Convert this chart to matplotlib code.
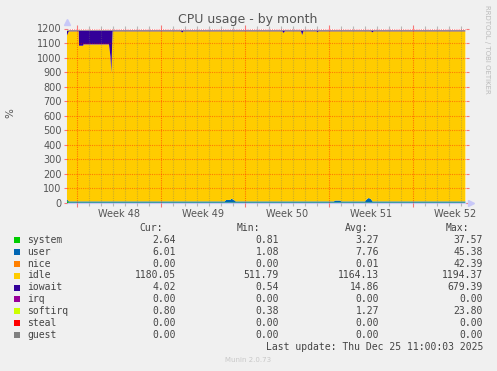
import matplotlib
matplotlib.use("Agg")
import matplotlib.pyplot as plt
from matplotlib.patches import Rectangle
import matplotlib.transforms as mtransforms

# ---------------- data ----------------
# time in days from left edge of plot
t = [0.00, 0.15, 0.98, 1.00, 1.35, 1.37, 3.50, 3.62, 3.70, 3.76, 3.80, 9.50, 9.60, 9.70,
     13.15, 13.25, 13.60, 13.70, 13.95, 14.05, 17.95, 18.05, 18.15, 19.50, 19.60, 19.70,
     20.80, 20.88, 20.95, 22.25, 22.35, 22.75, 22.85, 24.85, 24.95, 25.15, 25.35, 25.45,
     25.55, 33.20]
system = [15, 3, 3, 3, 3, 3, 3, 3, 3, 3, 3, 3, 3, 3,
          3, 3, 3, 3, 3, 3, 3, 3, 3, 3, 3, 3,
          3, 3, 3, 3, 3, 3, 3, 3, 3, 3, 3, 3,
          3, 3]
user = [10, 8, 8, 8, 8, 8, 8, 8, 8, 8, 8, 8, 8, 8,
        8, 18, 18, 27, 16, 8, 8, 8, 8, 8, 8, 8,
        8, 8, 8, 8, 14, 14, 8, 8, 20, 32, 22, 8,
        8, 8]
nice = [0] * 40
idle = [1128, 1169.7, 1169.7, 1070.7, 1070.7, 1079.7, 1079.7, 995.7, 885.7, 1075.7, 1169.7, 1169.7, 1160.7, 1169.7,
        1169.7, 1159.7, 1159.7, 1150.7, 1161.7, 1169.7, 1169.7, 1157.7, 1169.7, 1169.7, 1143.7, 1169.7,
        1169.7, 1161.7, 1169.7, 1169.7, 1163.7, 1163.7, 1169.7, 1169.7, 1157.7, 1145.7, 1155.7, 1161.7,
        1169.7, 1169.7]
iowait = [30, 6, 6, 105, 105, 96, 96, 180, 290, 100, 6, 6, 15, 6,
          6, 6, 6, 6, 6, 6, 6, 18, 6, 6, 32, 6,
          6, 14, 6, 6, 6, 6, 6, 6, 6, 6, 6, 14,
          6, 6]
irq = [0] * 40
softirq = [5] + [1.3] * 39
steal = [0] * 40
guest = [0] * 40

names = ["system", "user", "nice", "idle", "iowait", "irq", "softirq", "steal", "guest"]
colors = ["#00CC00", "#0066B3", "#FF8000", "#FFCC00", "#330099", "#990099", "#CCFF00", "#FF0000", "#808080"]
cur = ["2.64", "6.01", "0.00", "1180.05", "4.02", "0.00", "0.80", "0.00", "0.00"]
mins = ["0.81", "1.08", "0.00", "511.79", "0.54", "0.00", "0.38", "0.00", "0.00"]
avgs = ["3.27", "7.76", "0.01", "1164.13", "14.86", "0.00", "1.27", "0.00", "0.00"]
maxs = ["37.57", "45.38", "42.39", "1194.37", "679.39", "0.00", "23.80", "0.00", "0.00"]

week_starts = [0.83, 7.83, 14.83, 21.83, 28.83]
week_label_pos = [4.33, 11.33, 18.33, 25.33, 32.33]
week_labels = ["Week 48", "Week 49", "Week 50", "Week 51", "Week 52"]
day_lines = [0.83 + i for i in range(33)]
yticks = list(range(0, 1201, 100))

# ---------------- figure ----------------
W, H = 497, 371
fig = plt.figure(figsize=(W / 100, H / 100), dpi=100, facecolor="#F0F0F0")
ax = fig.add_axes([67 / W, 1 - 203 / H, 399 / W, (203 - 28.5) / H])
ax.set_facecolor("white")

ax.stackplot(t, system, user, nice, idle, iowait, irq, softirq, steal, guest,
             colors=colors, linewidth=0, zorder=1)

ax.set_xlim(0, 33.25)
ax.set_ylim(0, 1200)

# grid
for d in day_lines:
    if any(abs(d - w) < 1e-6 for w in week_starts):
        continue
    ax.axvline(d, color=(0.45, 0.45, 0.45, 0.35), lw=0.8, ls=(0, (1, 1)), zorder=2)
for w in week_starts:
    ax.axvline(w, color=(1, 0, 0, 0.45), lw=0.8, ls=(0, (1, 1)), zorder=2)
for y in yticks[1:]:
    ax.axhline(y, color=(1, 0, 0, 0.4), lw=0.8, ls=(0, (1, 1)), zorder=2)

# ticks
ax.set_xticks(week_starts)
ax.set_xticklabels([])
ax.set_xticks(day_lines, minor=True)
ax.tick_params(axis="x", which="major", direction="out", length=3, width=0.8,
               color=(1, 0, 0, 0.5), top=True)
ax.tick_params(axis="x", which="minor", direction="out", length=2, width=0.8,
               color=(0.5, 0.5, 0.5, 0.5), top=True)
ax.set_yticks(yticks)
ax.set_yticklabels([str(v) for v in yticks], fontsize=7, color="#555555")
ax.tick_params(axis="y", direction="out", length=2, width=0.8, color=(1, 0, 0, 0.5),
               right=True, pad=2)

trans = mtransforms.blended_transform_factory(ax.transData, ax.transAxes)
for p, lab in zip(week_label_pos, week_labels):
    ax.text(p, -0.035, lab, transform=trans, ha="center", va="top", fontsize=7, color="#555555")

for s in ["top", "right"]:
    ax.spines[s].set_visible(False)
for s in ["left", "bottom"]:
    ax.spines[s].set_color("#C8C8F8")
    ax.spines[s].set_linewidth(0.8)
    ax.spines[s].set_zorder(0.5)

# axis arrows
ax.plot([0], [1.04], marker="^", ms=5, color="#C8C8F8", transform=ax.transAxes, clip_on=False)
ax.plot([1.012], [0], marker=">", ms=5, color="#C8C8F8", transform=ax.transAxes, clip_on=False)

fig.text(10 / W, 1 - 113 / H, "%", rotation=90, ha="center", va="center",
         fontsize=7.5, color="#555555")

fig.text(248 / W, 1 - 19 / H, "CPU usage - by month", ha="center", va="center",
         fontsize=9, color="#555555")
fig.text(487 / W, 1 - 5 / H, "RRDTOOL / TOBI OETIKER", rotation=270, ha="center", va="top",
         fontsize=5, color="#BBBBBB")

# legend table
mono = "DejaVu Sans Mono"
hy = 1 - 228 / H
for x, lab in zip([163, 260, 368, 469], ["Cur:", "Min:", "Avg:", "Max:"]):
    fig.text(x / W, hy, lab, ha="right", va="center", fontsize=7, family=mono, color="#444444")
row_y = [240, 252, 264, 275.5, 287.5, 299.3, 311, 323, 335]
for i, name in enumerate(names):
    yy = 1 - row_y[i] / H
    fig.patches.append(Rectangle((14 / W, yy - 3 / H), 6 / W, 6 / H, transform=fig.transFigure,
                                 facecolor=colors[i], edgecolor="none"))
    fig.text(27 / W, yy, name, ha="left", va="center", fontsize=7, family=mono, color="#444444")
    for x, v in zip([176, 279, 379, 483], [cur[i], mins[i], avgs[i], maxs[i]]):
        fig.text(x / W, yy, v, ha="right", va="center", fontsize=7, family=mono, color="#444444")

fig.text(483 / W, 1 - 347 / H, "Last update: Thu Dec 25 11:00:03 2025", ha="right", va="center",
         fontsize=7, family=mono, color="#444444")
fig.text(248 / W, 1 - 360 / H, "Munin 2.0.73", ha="center", va="center", fontsize=5,
         color="#C8C8C8")

fig.savefig("out.png", dpi=100, facecolor=fig.get_facecolor())
